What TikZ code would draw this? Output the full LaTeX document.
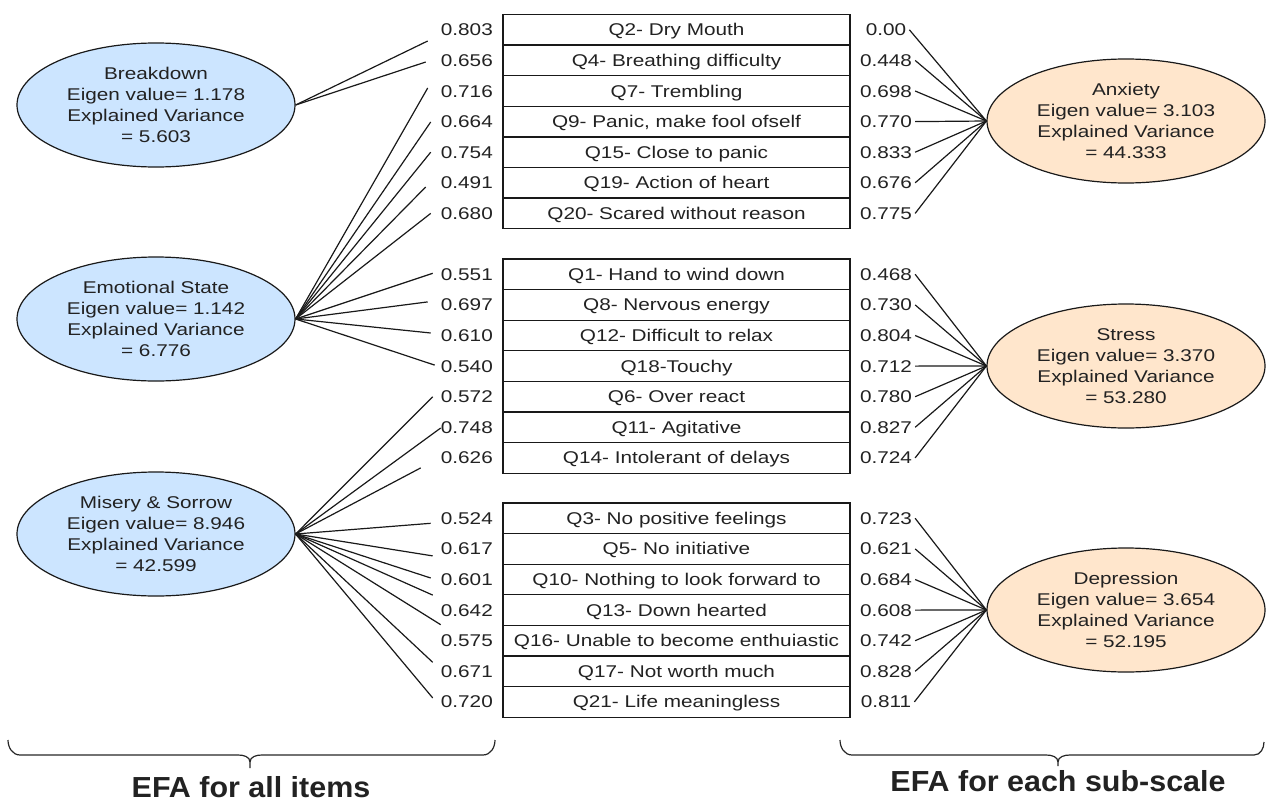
\documentclass[tikz,border=0pt]{standalone}
\usepackage{fontspec}
\setmainfont{Liberation Sans}[FakeStretch=1.22]
\newfontfamily\lblfont{Liberation Sans}[FakeStretch=1.05]
\usetikzlibrary{shapes.geometric,calc}
\definecolor{bluefill}{HTML}{CCE5FF}
\definecolor{orangefill}{HTML}{FFE6CC}
\definecolor{txt}{HTML}{222222}
\tikzset{
  ell/.style={ellipse, draw=black!90, line width=1.2pt, minimum width=278pt, minimum height=124pt,
    inner sep=0pt, align=center, text=txt, font=\fontsize{17}{21}\selectfont},
  lf/.style={ell, fill=bluefill},
  rf/.style={ell, fill=orangefill},
  item/.style={draw=black!90, line width=1.3pt, minimum width=347pt, minimum height=30.6pt,
    inner sep=0pt, text height=12pt, text depth=0pt, text=txt, font=\fontsize{17}{20}\selectfont},
  lnum/.style={anchor=east, inner sep=0pt, text height=12pt, text depth=0pt, text=txt, font=\fontsize{17}{20}\selectfont},
  rnum/.style={inner xsep=3pt, inner ysep=0pt, text height=12pt, text depth=0pt, text=txt, font=\fontsize{17}{20}\selectfont},
  conn/.style={draw=black!90, line width=1.2pt},
  bracestyle/.style={draw=black!85, line width=1.2pt},
  lbl/.style={font=\lblfont\bfseries\fontsize{29}{32}\selectfont, anchor=base, inner sep=0pt,
    text depth=0pt, text=txt}
}
\begin{document}
\begin{tikzpicture}[x=1pt, y=-1pt]
\useasboundingbox (0,0) rectangle (1266,803);

% latent factor ellipses (left)
\node[lf] (bd) at (156,105) {Breakdown\\Eigen value= 1.178\\Explained Variance\\= 5.603};
\node[lf] (es) at (156,319) {Emotional State\\Eigen value= 1.142\\Explained Variance\\= 6.776};
\node[lf] (ms) at (156,534) {Misery \& Sorrow\\Eigen value= 8.946\\Explained Variance\\= 42.599};
% (right)
\node[rf] (anx) at (1126,121) {Anxiety\\Eigen value= 3.103\\Explained Variance\\= 44.333};
\node[rf] (str) at (1126,366) {Stress\\Eigen value= 3.370\\Explained Variance\\= 53.280};
\node[rf] (dep) at (1126,610) {Depression\\Eigen value= 3.654\\Explained Variance\\= 52.195};

% block 1
\foreach [count=\i] \q/\l/\r in {{Q2- Dry Mouth}/0.803/0.00, {Q4- Breathing difficulty}/0.656/0.448,
  {Q7- Trembling}/0.716/0.698, {Q9- Panic, make fool ofself}/0.664/0.770, {Q15- Close to panic}/0.754/0.833,
  {Q19- Action of heart}/0.491/0.676, {Q20- Scared without reason}/0.680/0.775} {
  \node[item] (q1-\i) at (676.5,{14.5+(\i-0.5)*30.6}) {\q};
  \node[lnum] (l1-\i) at (493,{14.5+(\i-0.5)*30.6}) {\l};
  \node[rnum] (r1-\i) at (886,{14.5+(\i-0.5)*30.6}) {\r};
}
% block 2
\foreach [count=\i] \q/\l/\r in {{Q1- Hand to wind down}/0.551/0.468, {Q8- Nervous energy}/0.697/0.730,
  {Q12- Difficult to relax}/0.610/0.804, {Q18-Touchy}/0.540/0.712, {Q6- Over react}/0.572/0.780,
  {Q11- Agitative}/0.748/0.827, {Q14- Intolerant of delays}/0.626/0.724} {
  \node[item] (q2-\i) at (676.5,{259+(\i-0.5)*30.6}) {\q};
  \node[lnum] (l2-\i) at (493,{259+(\i-0.5)*30.6}) {\l};
  \node[rnum] (r2-\i) at (886,{259+(\i-0.5)*30.6}) {\r};
}
% block 3
\foreach [count=\i] \q/\l/\r in {{Q3- No positive feelings}/0.524/0.723, {Q5- No initiative}/0.617/0.621,
  {Q10- Nothing to look forward to}/0.601/0.684, {Q13- Down hearted}/0.642/0.608,
  {Q16- Unable to become enthuiastic}/0.575/0.742, {Q17- Not worth much}/0.671/0.828,
  {Q21- Life meaningless}/0.720/0.811} {
  \node[item] (q3-\i) at (676.5,{503+(\i-0.5)*30.6}) {\q};
  \node[lnum] (l3-\i) at (493,{503+(\i-0.5)*30.6}) {\l};
  \node[rnum] (r3-\i) at (886,{503+(\i-0.5)*30.6}) {\r};
}

% left connectors
\foreach \i/\dx/\dy in {1/-13/11.2, 2/-15/1.6}
  \draw[conn] (bd.east) -- ($(l1-\i.west)+(\dx,\dy)$);
\foreach \i/\dx/\dy in {3/-13/-3, 4/-10/0.4, 5/-10/0, 6/-15/4.2, 7/-10/0}
  \draw[conn] (es.east) -- ($(l1-\i.west)+(\dx,\dy)$);
\foreach \i/\dx/\dy in {1/-8/-1, 2/-13/-3, 3/-10/-2.5, 4/-6/-1}
  \draw[conn] (es.east) -- ($(l2-\i.west)+(\dx,\dy)$);
\foreach \i/\dx/\dy in {5/-8/0, 6/0/0.7, 7/-20/10}
  \draw[conn] (ms.east) -- ($(l2-\i.west)+(\dx,\dy)$);
\foreach \i/\dx/\dy in {1/-10/5, 2/-8/7, 3/-10/-1.5, 4/-8/-15, 5/0/-16, 6/-8/-9, 7/-8/-4}
  \draw[conn] (ms.east) -- ($(l3-\i.west)+(\dx,\dy)$);

% right connectors
\foreach \i in {1,...,7} {
  \draw[conn] (r1-\i.east) -- (anx.west);
  \draw[conn] (r2-\i.east) -- (str.west);
  \draw[conn] (r3-\i.east) -- (dep.west);
}

% braces
\coordinate (lbA) at (8,740);
\coordinate (lbB) at (495,740);
\coordinate (lbT) at (250,768);
\draw[bracestyle] (lbA) to[out=-90,in=180] (20,755) -- (238,755) to[out=0,in=90] (250,762) -- (lbT);
\draw[bracestyle] (lbB) to[out=-90,in=0] (483,755) -- (262,755) to[out=180,in=90] (250,762);
\coordinate (rbA) at (840,740);
\coordinate (rbB) at (1264,742);
\coordinate (rbT) at (1058,766);
\draw[bracestyle] (rbA) to[out=-90,in=180] (852,755) -- (1046,755) to[out=0,in=90] (1058,762) -- (rbT);
\draw[bracestyle] (rbB) to[out=-90,in=0] (1254,755) -- (1070,755) to[out=180,in=90] (1058,762);

% labels
\node[lbl] (lab1) at (251,797) {EFA for all items};
\node[lbl] (lab2) at (1058,791) {EFA for each sub-scale};
\end{tikzpicture}
\end{document}
